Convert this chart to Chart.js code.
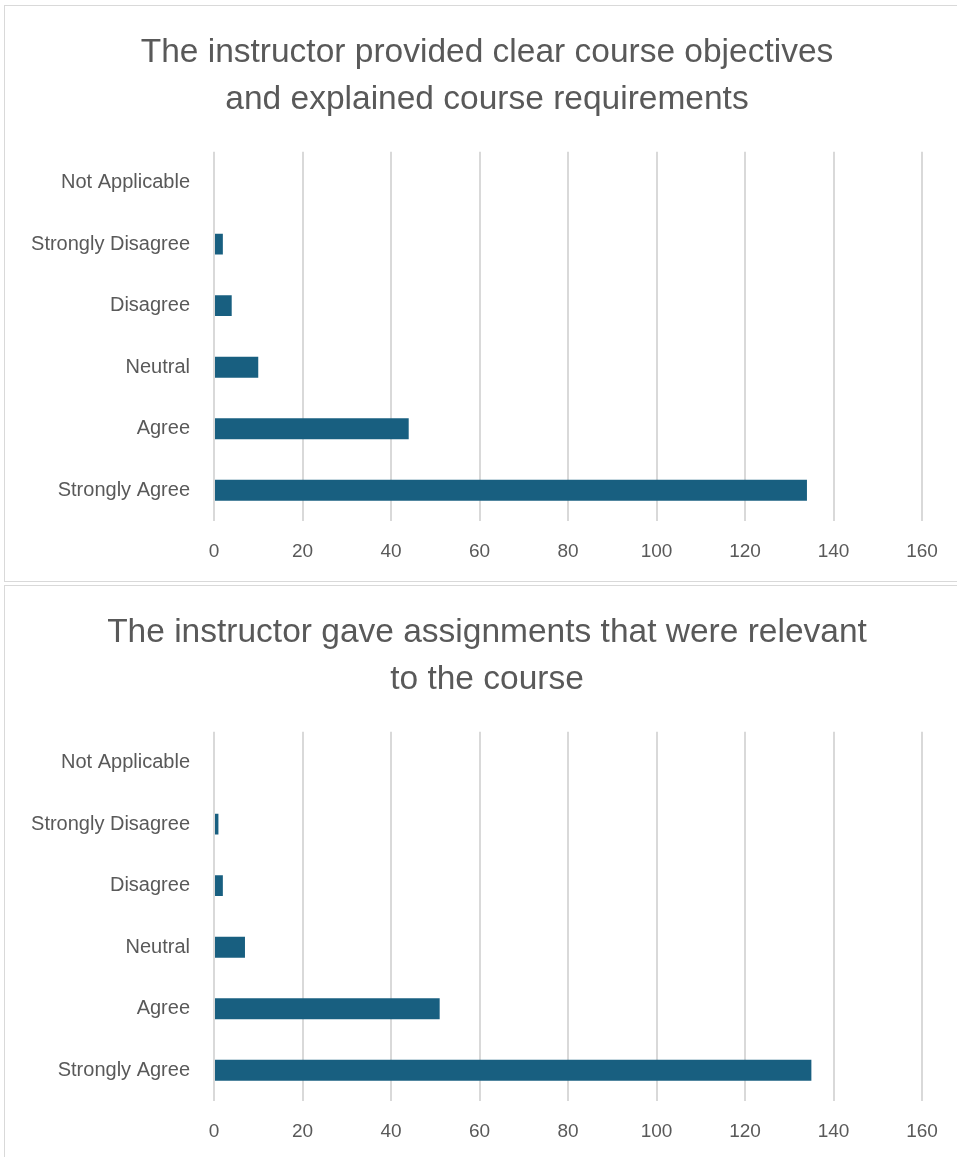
<!DOCTYPE html>
<html>
<head>
<meta charset="utf-8">
<script src="https://cdn.jsdelivr.net/npm/chart.js@4.4.1/dist/chart.umd.min.js"></script>
<style>
  html, body { margin: 0; padding: 0; background: #fff; overflow: hidden; }
  .panel { position: absolute; left: 4px; border: 1px solid #d9d9d9; background: #fff; }
  #p1 { top: 5px; }
  #p2 { top: 585px; }
  canvas { display: block; }
</style>
</head>
<body>
<div class="panel" id="p1"><canvas id="chart1" width="964" height="575"></canvas></div>
<div class="panel" id="p2"><canvas id="chart2" width="964" height="575"></canvas></div>
<script>
// categories, top to bottom as drawn
const categories = ['Not Applicable', 'Strongly Disagree', 'Disagree', 'Neutral', 'Agree', 'Strongly Agree'];

const title1 = ['The instructor provided clear course objectives', 'and explained course requirements'];
const values1 = [0, 2, 4, 10, 44, 134];

const title2 = ['The instructor gave assignments that were relevant', 'to the course'];
const values2 = [0, 1, 2, 7, 51, 135];

const xTicks = [0, 20, 40, 60, 80, 100, 120, 140, 160];

const TEXT = '#595959';
const GRID = '#d9d9d9';
const BAR = '#185f80';
const FONT = "'Liberation Sans', Arial, sans-serif";

// centre the title on the whole panel, not on the padded area
const fullWidthTitle = {
  id: 'fullWidthTitle',
  afterLayout(chart) {
    const t = chart.titleBlock;
    if (t) {
      t.left = 0;
      t.right = chart.width;
      t.width = chart.width;
    }
  },
};

function buildChart(canvasId, title, values) {
  return new Chart(document.getElementById(canvasId), {
    type: 'bar',
    data: {
      labels: categories,
      datasets: [{
        data: values,
        backgroundColor: BAR,
        borderWidth: 0,
        barPercentage: 0.34,
        categoryPercentage: 1,
      }],
    },
    plugins: [fullWidthTitle],
    options: {
      indexAxis: 'y',
      responsive: false,
      animation: false,
      layout: { padding: { left: 0, right: 47, top: 0, bottom: 0 } },
      plugins: {
        legend: { display: false },
        tooltip: { enabled: false },
        title: {
          display: true,
          text: title,
          color: TEXT,
          font: { family: FONT, size: 33.5, weight: 'normal', lineHeight: 1.4 },
          padding: { top: 23, bottom: 29 },
        },
      },
      scales: {
        x: {
          min: 0,
          max: 160,
          afterBuildTicks: s => { s.ticks = xTicks.map(v => ({ value: v })); },
          afterFit: s => { s.height = 60; },
          grid: { color: GRID, lineWidth: 2, drawTicks: false },
          border: { display: false },
          ticks: { color: TEXT, padding: 19, font: { family: FONT, size: 19 } },
        },
        y: {
          afterFit: s => { s.width = 209; },
          grid: { display: false },
          border: { display: false },
          ticks: { color: TEXT, padding: 16, font: { family: FONT, size: 20 } },
        },
      },
    },
  });
}

buildChart('chart1', title1, values1);
buildChart('chart2', title2, values2);
</script>
</body>
</html>
